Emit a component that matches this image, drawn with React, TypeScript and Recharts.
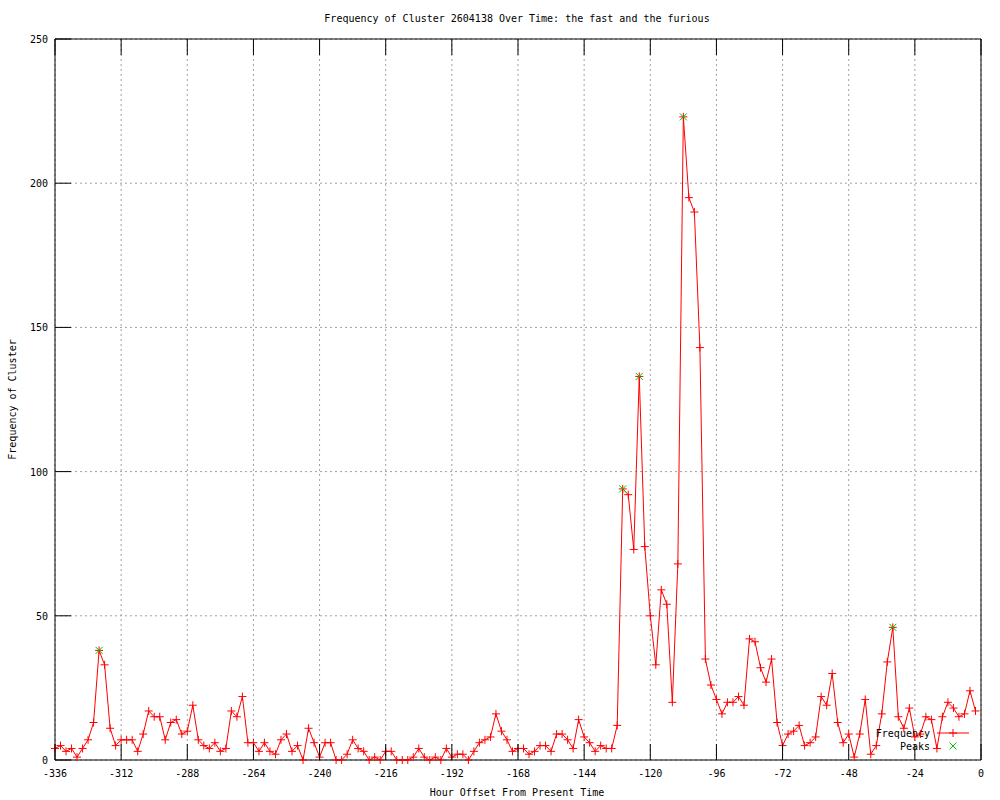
import React from 'react';
import { ComposedChart, Line, Scatter, XAxis, YAxis, CartesianGrid } from 'recharts';

const hours = [
  -336, -334, -332, -330, -328, -326, -324, -322, -320, -318, -316, -314,
  -312, -310, -308, -306, -304, -302, -300, -298, -296, -294, -292, -290,
  -288, -286, -284, -282, -280, -278, -276, -274, -272, -270, -268, -266,
  -264, -262, -260, -258, -256, -254, -252, -250, -248, -246, -244, -242,
  -240, -238, -236, -234, -232, -230, -228, -226, -224, -222, -220, -218,
  -216, -214, -212, -210, -208, -206, -204, -202, -200, -198, -196, -194,
  -192, -190, -188, -186, -184, -182, -180, -178, -176, -174, -172, -170,
  -168, -166, -164, -162, -160, -158, -156, -154, -152, -150, -148, -146,
  -144, -142, -140, -138, -136, -134, -132, -130, -128, -126, -124, -122,
  -120, -118, -116, -114, -112, -110, -108, -106, -104, -102, -100, -98,
  -96, -94, -92, -90, -88, -86, -84, -82, -80, -78, -76, -74,
  -72, -70, -68, -66, -64, -62, -60, -58, -56, -54, -52, -50,
  -48, -46, -44, -42, -40, -38, -36, -34, -32, -30, -28, -26,
  -24, -22, -20, -18, -16, -14, -12, -10, -8, -6, -4, -2,
];

const frequency = [
  4, 5, 3, 4, 1, 4, 7, 13, 38, 33, 11, 5,
  7, 7, 7, 3, 9, 17, 15, 15, 7, 13, 14, 9,
  10, 19, 7, 5, 4, 6, 3, 4, 17, 15, 22, 6,
  6, 3, 6, 3, 2, 7, 9, 3, 5, 0, 11, 6,
  1, 6, 6, 0, 0, 2, 7, 4, 3, 0, 1, 0,
  3, 3, 0, 0, 0, 1, 4, 1, 0, 1, 0, 4,
  1, 2, 2, 0, 3, 6, 7, 8, 16, 10, 7, 3,
  4, 4, 2, 3, 5, 5, 3, 9, 9, 7, 4, 14,
  8, 6, 3, 5, 4, 4, 12, 94, 92, 73, 133, 74,
  50, 33, 59, 54, 20, 68, 223, 195, 190, 143, 35, 26,
  21, 16, 20, 20, 22, 19, 42, 41, 32, 27, 35, 13,
  5, 9, 10, 12, 5, 6, 8, 22, 19, 30, 13, 6,
  9, 1, 9, 21, 2, 5, 16, 34, 46, 15, 11, 18,
  8, 9, 15, 14, 4, 15, 20, 18, 15, 16, 24, 17,
];

const peakHours = [-320, -130, -124, -108, -32];
const peakValues = [38, 94, 133, 223, 46];

const xTicks = [-336, -312, -288, -264, -240, -216, -192, -168, -144, -120, -96, -72, -48, -24, 0];
const yTicks = [0, 50, 100, 150, 200, 250];

const titleText = 'Frequency of Cluster 2604138 Over Time: the fast and the furious';
const xLabelText = 'Hour Offset From Present Time';
const yLabelText = 'Frequency of Cluster';
const seriesNames = ['Frequency', 'Peaks'];

const data = hours.map((h, i) => ({ hour: h, frequency: frequency[i] }));
const peaks = peakHours.map((h, i) => ({ hour: h, frequency: peakValues[i] }));

const FONT = '"DejaVu Sans Mono", monospace';
const RED = '#ff0000';
const GREEN = '#00c000';
const TICK = 16;

const plusPath = (cx: number, cy: number, r = 4) => `M${cx - r},${cy}h${2 * r}M${cx},${cy - r}v${2 * r}`;
const crossPath = (cx: number, cy: number, r = 3.5) =>
  `M${cx - r},${cy - r}L${cx + r},${cy + r}M${cx - r},${cy + r}L${cx + r},${cy - r}`;

const renderPlus = (p: any) => {
  const { cx, cy, index } = p;
  if (cx == null || cy == null) return <g key={`d${index}`} />;
  return <path key={`d${index}`} d={plusPath(cx, cy)} stroke={RED} strokeWidth={1} fill="none" />;
};

const renderCross = (p: any) => {
  const { cx, cy } = p;
  return <path d={crossPath(cx, cy)} stroke={GREEN} strokeWidth={1} fill="none" />;
};

const BottomTick = (p: any) => {
  const { x, y, payload } = p;
  return (
    <g>
      <line x1={x} x2={x} y1={y} y2={y - TICK} stroke="#000" strokeWidth={1} />
      <text x={x} y={y + 17} textAnchor="middle" fontFamily={FONT} fontSize={10} fill="#000">
        {payload.value}
      </text>
    </g>
  );
};

const TopTick = (p: any) => {
  const { x, y } = p;
  return <line x1={x} x2={x} y1={y} y2={y + TICK} stroke="#000" strokeWidth={1} />;
};

const LeftTick = (p: any) => {
  const { x, y, payload } = p;
  return (
    <g>
      <line x1={x} x2={x + TICK} y1={y} y2={y} stroke="#000" strokeWidth={1} />
      <text x={x - 7} y={y + 4} textAnchor="end" fontFamily={FONT} fontSize={10} fill="#000">
        {payload.value}
      </text>
    </g>
  );
};

const RightTick = (p: any) => {
  const { x, y } = p;
  return <line x1={x} x2={x - TICK} y1={y} y2={y} stroke="#000" strokeWidth={1} />;
};

const TitleLabel = (p: any) => {
  const vb = p.viewBox || { x: 55, y: 38, width: 926 };
  return (
    <text x={vb.x + vb.width / 2 - 1} y={vb.y - 16} textAnchor="middle" fontFamily={FONT} fontSize={10} fill="#000">
      {titleText}
    </text>
  );
};

const XLabel = (p: any) => {
  const vb = p.viewBox || { x: 55, y: 760, width: 926 };
  return (
    <text x={vb.x + vb.width / 2 - 1} y={vb.y + 36} textAnchor="middle" fontFamily={FONT} fontSize={10} fill="#000">
      {xLabelText}
    </text>
  );
};

const YLabel = (p: any) => {
  const vb = p.viewBox || { x: 0, y: 39, height: 721 };
  const cx = 16;
  const cy = vb.y + vb.height / 2;
  return (
    <text
      x={cx}
      y={cy}
      transform={`rotate(-90 ${cx} ${cy})`}
      textAnchor="middle"
      fontFamily={FONT}
      fontSize={10}
      fill="#000"
    >
      {yLabelText}
    </text>
  );
};

const LegendLabel = (p: any) => {
  const vb = p.viewBox || { x: 981, y: 39, height: 721 };
  const right = vb.x;
  const bottom = vb.y + vb.height;
  const textEnd = right - 51;
  const markX = right - 28;
  const row1 = bottom - 27;
  const row2 = bottom - 14;
  return (
    <g>
      <text x={textEnd} y={row1 + 4} textAnchor="end" fontFamily={FONT} fontSize={10} fill="#000">
        {seriesNames[0]}
      </text>
      <line x1={right - 44} x2={right - 12} y1={row1} y2={row1} stroke={RED} strokeWidth={1} />
      <path d={plusPath(markX, row1)} stroke={RED} strokeWidth={1} fill="none" />
      <text x={textEnd} y={row2 + 4} textAnchor="end" fontFamily={FONT} fontSize={10} fill="#000">
        {seriesNames[1]}
      </text>
      <path d={crossPath(markX, row2)} stroke={GREEN} strokeWidth={1} fill="none" />
    </g>
  );
};

export default function App() {
  return (
    <div style={{ position: 'absolute', left: 0, top: 0, width: 1000, height: 800, background: '#fff' }}>
      <ComposedChart
        width={1000}
        height={800}
        data={data}
        margin={{ top: 38, right: 18, bottom: 0, left: 0 }}
      >
        <CartesianGrid stroke="#a0a0a0" strokeDasharray="2 3" />
        <XAxis
          type="number"
          dataKey="hour"
          domain={[-336, 0]}
          ticks={xTicks}
          interval={0}
          height={40}
          tickSize={0}
          tickMargin={0}
          tickLine={false}
          tick={BottomTick}
          axisLine={{ stroke: '#000' }}
          label={XLabel}
        />
        <XAxis
          xAxisId="top"
          orientation="top"
          type="number"
          dataKey="hour"
          domain={[-336, 0]}
          ticks={xTicks}
          interval={0}
          height={1}
          tickSize={0}
          tickMargin={0}
          tickLine={false}
          tick={TopTick}
          axisLine={{ stroke: '#000' }}
          label={TitleLabel}
        />
        <YAxis
          type="number"
          domain={[0, 250]}
          ticks={yTicks}
          interval={0}
          width={55}
          tickSize={0}
          tickMargin={0}
          tickLine={false}
          tick={LeftTick}
          axisLine={{ stroke: '#000' }}
          label={YLabel}
        />
        <YAxis
          yAxisId="right"
          orientation="right"
          type="number"
          domain={[0, 250]}
          ticks={yTicks}
          interval={0}
          width={1}
          tickSize={0}
          tickMargin={0}
          tickLine={false}
          tick={RightTick}
          axisLine={{ stroke: '#000' }}
          label={LegendLabel}
        />
        <Line
          type="linear"
          dataKey="frequency"
          stroke={RED}
          strokeWidth={1}
          dot={renderPlus}
          activeDot={false}
          isAnimationActive={false}
        />
        <Scatter data={peaks} dataKey="frequency" shape={renderCross} isAnimationActive={false} />
      </ComposedChart>
    </div>
  );
}
